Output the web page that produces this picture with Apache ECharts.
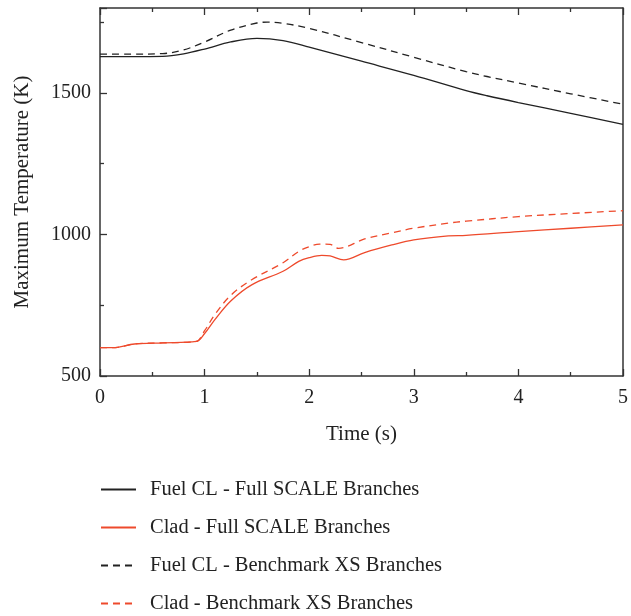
<!DOCTYPE html>
<html><head><meta charset="utf-8">
<script src="https://cdn.jsdelivr.net/npm/echarts@6/dist/echarts.min.js"></script>
<style>html,body{margin:0;padding:0;background:#fff}#c{width:631px;height:616px}</style>
</head><body><div id="c"></div>
<script>
var seriesNames = ['Fuel CL - Full SCALE Branches','Clad - Full SCALE Branches','Fuel CL - Benchmark XS Branches','Clad - Benchmark XS Branches'];
var fuelFullT = [0, 0.3, 0.6, 0.8, 1.0, 1.25, 1.5, 1.75, 2.0, 2.5, 3.0, 3.5, 3.7, 4.0, 4.5, 5.0];
var fuelFullV = [1628, 1628, 1629, 1638, 1655, 1680, 1693, 1685, 1662, 1612, 1562, 1508, 1490, 1466, 1428, 1389];
var cladFullT = [0, 0.12, 0.33, 0.6, 0.92, 1.0, 1.1, 1.25, 1.45, 1.75, 1.9, 2.0, 2.12, 2.2, 2.33, 2.53, 2.79, 3.0, 3.33, 3.5, 4.0, 4.5, 5.0];
var cladFullV = [600, 600, 613, 617, 622, 650, 700, 765, 822, 870, 905, 918, 926, 924, 910, 936, 963, 981, 995, 997, 1010, 1022, 1034];
var fuelBenchT = [0, 0.3, 0.6, 0.8, 1.0, 1.25, 1.5, 1.6, 1.75, 2.0, 2.5, 3.0, 3.5, 3.7, 4.0, 4.5, 5.0];
var fuelBenchV = [1637, 1637, 1639, 1652, 1680, 1722, 1747, 1750, 1746, 1728, 1678, 1626, 1575, 1558, 1535, 1497, 1460];
var cladBenchT = [0, 0.12, 0.33, 0.6, 0.92, 1.0, 1.1, 1.25, 1.45, 1.75, 1.9, 2.0, 2.1, 2.2, 2.28, 2.53, 2.79, 3.0, 3.33, 3.5, 4.0, 4.5, 5.0];
var cladBenchV = [600, 600, 613, 617, 622, 660, 718, 785, 840, 900, 940, 957, 966, 965, 951, 984, 1006, 1022, 1040, 1047, 1063, 1074, 1084];
var xTicks = [0, 1, 2, 3, 4, 5];
var yTicks = [500, 1000, 1500];

function pairs(t, v){ return t.map(function(x,i){ return [x, v[i]]; }); }
var FONT = '"Liberation Serif", "DejaVu Serif", serif';
var BLACK = '#222', RED = '#ee4a2c', AX = '#333';
var chart = echarts.init(document.getElementById('c'), null, {renderer:'canvas'});
function mk(name, t, v, color, type){
  return {name:name, type:'line', data:pairs(t,v), symbol:'circle', showSymbol:false, smooth:0.35,
    lineStyle:{color:color, width:1.3, type:type}, itemStyle:{color:color}, z:3};
}
var tickCommon = {inside:true, length:7, lineStyle:{color:AX, width:1.3}};
var minorCommon = {show:true, splitNumber:2, length:4, lineStyle:{color:AX, width:1.3}};
chart.setOption({
  animation:false,
  textStyle:{fontFamily:FONT},
  grid:{left:100, right:5, top:8, bottom:240},
  xAxis:[{type:'value', min:0, max:5, interval:1, position:'bottom',
    name:'Time (s)', nameLocation:'middle', nameGap:48,
    nameTextStyle:{fontFamily:FONT, fontSize:21, color:'#222'},
    axisLine:{lineStyle:{color:AX, width:1.5}},
    axisTick:tickCommon, minorTick:minorCommon,
    axisLabel:{fontFamily:FONT, fontSize:20, color:'#222', margin:12,
      formatter:function(v){ return xTicks.indexOf(v)>=0 ? String(v) : ''; }},
    splitLine:{show:false}},
   {type:'value', min:0, max:5, interval:1, position:'top',
    axisLine:{show:true, onZero:false, lineStyle:{color:AX, width:1.5}},
    axisTick:tickCommon, minorTick:minorCommon,
    axisLabel:{show:false}, splitLine:{show:false}}],
  yAxis:[{type:'value', min:500, max:1800, interval:500, position:'left',
    name:'Maximum Temperature (K)', nameLocation:'middle', nameGap:67,
    nameTextStyle:{fontFamily:FONT, fontSize:21, color:'#222'},
    axisLine:{show:true, lineStyle:{color:AX, width:1.5}},
    axisTick:tickCommon, minorTick:minorCommon,
    axisLabel:{fontFamily:FONT, fontSize:20, color:'#222', margin:9,
      formatter:function(v){ return yTicks.indexOf(v)>=0 ? String(v) : ''; }},
    splitLine:{show:false}},
   {type:'value', min:500, max:1800, position:'right',
    axisLine:{show:true, onZero:false, lineStyle:{color:AX, width:1.5}},
    axisTick:{show:false}, axisLabel:{show:false}, splitLine:{show:false}}],
  legend:{orient:'vertical', left:95, top:474, height:142, itemWidth:35, itemHeight:14, itemGap:17,
    itemStyle:{opacity:0},
    textStyle:{fontFamily:FONT, fontSize:20.5, color:'#222', padding:[0,0,0,9]},
    data:seriesNames},
  series:[
    mk(seriesNames[0], fuelFullT, fuelFullV, BLACK, 'solid'),
    mk(seriesNames[1], cladFullT, cladFullV, RED, 'solid'),
    mk(seriesNames[2], fuelBenchT, fuelBenchV, BLACK, [7,5]),
    mk(seriesNames[3], cladBenchT, cladBenchV, RED, [7,5])
  ]
});
</script></body></html>
